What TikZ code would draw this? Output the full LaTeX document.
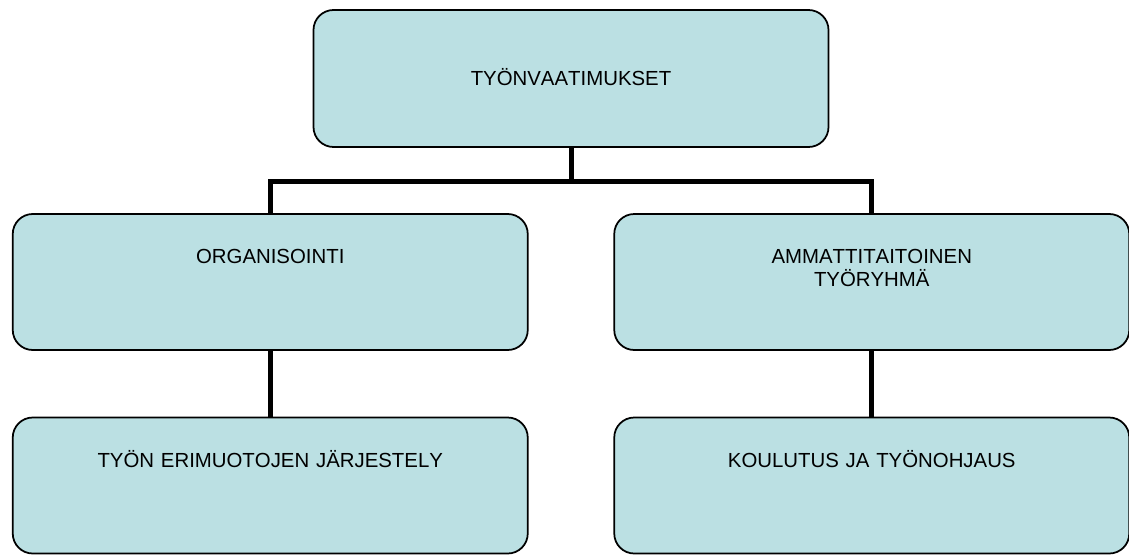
\documentclass[tikz,border=0pt]{standalone}
\usepackage{fontspec}
\setmainfont[Kerning=Off]{Liberation Sans}
\usepackage{xcolor}
\usepackage{tikz}

\definecolor{boxfill}{RGB}{187,224,227}

\begin{document}
\begin{tikzpicture}[
    orgbox/.style={draw, line width=1pt, fill=boxfill, rounded corners=0.4cm,
      text width=9.8cm, inner xsep=0.25cm, inner ysep=0pt, align=center,
      font=\fontsize{11.6pt}{13.1pt}\selectfont,
      text height=0.99cm, text depth=1.73cm},
    rootbox/.style={orgbox, text height=1.5cm, text depth=1.24cm},
    level distance=4.07cm,
    sibling distance=12.03cm,
    edge from parent/.style={draw, line width=2.85pt},
    edge from parent path={(\tikzparentnode.south) -- ++(0,-0.67) -| (\tikzchildnode.north)},
  ]
  \useasboundingbox (0,0) rectangle (22.58,-11.08);

  \node[rootbox] (vaatimukset) at (11.42,-1.57) {TYÖNVAATIMUKSET}
  child {node[orgbox] (organisointi) {ORGANISOINTI}
    child {node[orgbox] (jarjestely) {TYÖN ERIMUOTOJEN JÄRJESTELY}}
  }
  child {node[orgbox] (tyoryhma) {AMMATTITAITOINEN\\TYÖRYHMÄ}
    child {node[orgbox] (koulutus) {KOULUTUS JA TYÖNOHJAUS}}
  }
  ;
\end{tikzpicture}
\end{document}
